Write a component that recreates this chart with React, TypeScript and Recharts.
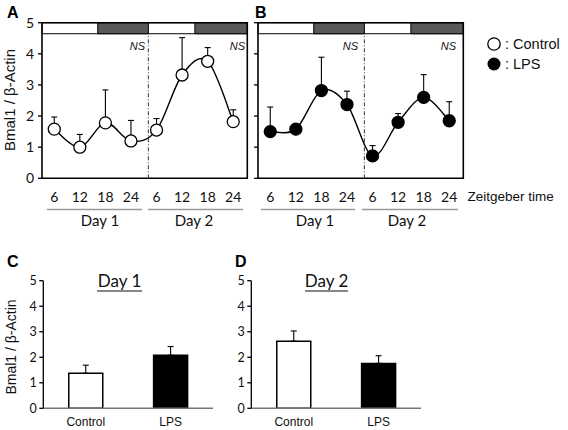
import React from 'react';
import {
  ComposedChart,
  BarChart,
  Line,
  Bar,
  Cell,
  XAxis,
  YAxis,
  ErrorBar,
  ReferenceArea,
  ReferenceLine,
} from 'recharts';

// Zeitgeber time labels (Day 1 then Day 2)
const zeitgeberLabels = ['6', '12', '18', '24', '6', '12', '18', '24'];

// panel A, control
const controlMean = [1.58, 1.0, 1.78, 1.2, 1.55, 3.32, 3.76, 1.82];
const controlSem = [0.39, 0.41, 1.06, 0.66, 0.37, 1.2, 0.44, 0.38];

// panel B, LPS
const lpsMean = [1.5, 1.58, 2.82, 2.37, 0.72, 1.8, 2.6, 1.85];
const lpsSem = [0.79, 0.04, 1.07, 0.43, 0.33, 0.28, 0.73, 0.61];

// panels C and D
const groups = ['Control', 'LPS'];
const day1Mean = [1.37, 2.08];
const day1Sem = [0.32, 0.34];
const day2Mean = [2.63, 1.76];
const day2Sem = [0.4, 0.3];
const groupFills = ['#ffffff', '#000000'];

const yTicks = [0, 1, 2, 3, 4, 5];

// light/dark bar on top of A and B (in x-axis units)
const xDomain = [0.52, 8.55];
const darkPhases = [
  [2.7, 4.68],
  [6.5, 8.55],
];
const dayBoundary = 4.68;
const bandBottom = 4.645;

const ARIAL = '"Liberation Sans", Arial, sans-serif';
const CALIBRI = 'Lato, "Open Sans", sans-serif';

const timeRows = (mean: number[], sem: number[]) =>
  mean.map((m, i) => ({ pos: i + 1, label: zeitgeberLabels[i], mean: m, err: [0, sem[i]] }));

const barRows = (mean: number[], sem: number[]) =>
  groups.map((g, i) => ({ group: g, mean: mean[i], err: [0, sem[i]] }));

// Excel-like smoothed line (Catmull-Rom through the points)
const smoothCurve = (context: any) => {
  let pts: number[][] = [];
  return {
    areaStart() {},
    areaEnd() {},
    lineStart() {
      pts = [];
    },
    point(x: number, y: number) {
      pts.push([+x, +y]);
    },
    lineEnd() {
      if (!pts.length) return;
      context.moveTo(pts[0][0], pts[0][1]);
      for (let i = 0; i < pts.length - 1; i++) {
        const p0 = pts[i - 1] || pts[i];
        const p1 = pts[i];
        const p2 = pts[i + 1];
        const p3 = pts[i + 2] || p2;
        context.bezierCurveTo(
          p1[0] + (p2[0] - p0[0]) / 6,
          p1[1] + (p2[1] - p0[1]) / 6,
          p2[0] - (p3[0] - p1[0]) / 6,
          p2[1] - (p3[1] - p1[1]) / 6,
          p2[0],
          p2[1]
        );
      }
    },
  };
};

const TimeTick = (props: any) => {
  const { x, y, payload } = props;
  return (
    <text x={x} y={y + 24} textAnchor="middle" fontSize={14} fontFamily={CALIBRI} fill="#111">
      {zeitgeberLabels[payload.value - 1]}
    </text>
  );
};

function TimeCourse({ mean, sem, filled, showYTicks, left }: any) {
  const rows = timeRows(mean, sem);
  return (
    <div style={{ position: 'absolute', left, top: 0 }}>
      <ComposedChart
        width={260}
        height={240}
        data={rows}
        margin={{ top: 22.7, right: 12.7, bottom: 31.7, left: 0 }}
      >
        <XAxis
          dataKey="pos"
          type="number"
          domain={xDomain}
          ticks={[1, 2, 3, 4, 5, 6, 7, 8]}
          interval={0}
          axisLine={false}
          tickLine={false}
          tickSize={0}
          tickMargin={0}
          height={30}
          tick={<TimeTick />}
        />
        <YAxis
          domain={[0, 5]}
          ticks={yTicks}
          width={42}
          axisLine={false}
          tickSize={4}
          tickMargin={4}
          tickLine={{ stroke: '#000', strokeWidth: 1.3 }}
          tick={
            showYTicks
              ? { fontSize: 14, fill: '#111', fontFamily: CALIBRI }
              : () => <g />
          }
        />
        <ReferenceArea x1={xDomain[0]} x2={xDomain[1]} y1={bandBottom} y2={5} fill="#fff" fillOpacity={1} stroke="#000" strokeWidth={1} />
        {darkPhases.map((p, i) => (
          <ReferenceArea key={i} x1={p[0]} x2={p[1]} y1={bandBottom} y2={5} fill="#595959" fillOpacity={1} stroke="#000" strokeWidth={1} />
        ))}
        <ReferenceLine
          segment={[
            { x: dayBoundary, y: 0 },
            { x: dayBoundary, y: bandBottom },
          ]}
          stroke="#333"
          strokeWidth={1}
          strokeDasharray="4 2 1 2"
        />
        <ReferenceArea x1={xDomain[0]} x2={xDomain[1]} y1={0} y2={5} fill="none" stroke="#000" strokeWidth={1.6} />
        <Line
          dataKey="mean"
          type={smoothCurve as any}
          stroke="#000"
          strokeWidth={1.4}
          dot={{ r: 6, fill: filled ? '#000' : '#fff', stroke: '#000', strokeWidth: 1.3, fillOpacity: 1 }}
          activeDot={false}
          isAnimationActive={false}
        >
          <ErrorBar dataKey="err" direction="y" width={3} stroke="#000" strokeWidth={1.1} />
        </Line>
      </ComposedChart>
    </div>
  );
}

function DayBars({ mean, sem, left }: any) {
  const rows = barRows(mean, sem);
  return (
    <div style={{ position: 'absolute', left, top: 260 }}>
      <BarChart
        width={230}
        height={170}
        data={rows}
        margin={{ top: 20.7, right: 17, bottom: 0, left: 0 }}
        barCategoryGap="30%"
      >
        <XAxis
          dataKey="group"
          height={21.7}
          axisLine={{ stroke: '#777', strokeWidth: 1.5 }}
          tickLine={false}
          tickSize={6}
          tickMargin={3}
          tick={{ fontSize: 12, fill: '#111', fontFamily: ARIAL }}
        />
        <YAxis
          domain={[0, 5]}
          ticks={yTicks}
          width={43.3}
          axisLine={{ stroke: '#000', strokeWidth: 1.3 }}
          tickLine={{ stroke: '#000', strokeWidth: 1.3 }}
          tickSize={4}
          tickMargin={2.5}
          tick={{ fontSize: 12.5, fill: '#111', fontFamily: CALIBRI }}
        />
        <Bar dataKey="mean" stroke="#000" strokeWidth={1.5} isAnimationActive={false}>
          {rows.map((r, i) => (
            <Cell key={r.group} fill={groupFills[i]} />
          ))}
          <ErrorBar dataKey="err" direction="y" width={3} stroke="#000" strokeWidth={1.1} />
        </Bar>
      </BarChart>
    </div>
  );
}

export default function App() {
  return (
    <div style={{ position: 'absolute', left: 0, top: 0, width: 568, height: 430, background: '#fff', overflow: 'hidden' }}>
      <TimeCourse mean={controlMean} sem={controlSem} filled={false} showYTicks left={0} />
      <TimeCourse mean={lpsMean} sem={lpsSem} filled showYTicks={false} left={215.7} />
      <DayBars mean={day1Mean} sem={day1Sem} left={0} />
      <DayBars mean={day2Mean} sem={day2Sem} left={208.4} />

      <svg width={568} height={430} style={{ position: 'absolute', left: 0, top: 0, pointerEvents: 'none' }}>
        <g fontFamily={ARIAL} fontWeight="bold" fontSize={16} fill="#000">
          <text x={7} y={18}>A</text>
          <text x={255} y={18}>B</text>
          <text x={7} y={267}>C</text>
          <text x={235} y={267}>D</text>
        </g>

        <text transform="translate(15,100) rotate(-90)" textAnchor="middle" fontFamily={ARIAL} fontSize={15} fill="#111">
          Bmal1 / β-Actin
        </text>
        <text transform="translate(16,347) rotate(-90)" textAnchor="middle" fontFamily={ARIAL} fontSize={14} fill="#111">
          Bmal1 / β-Actin
        </text>

        <g fontFamily={ARIAL} fontStyle="italic" fontSize={11} fill="#111" textAnchor="end">
          <text x={145} y={49.5}>NS</text>
          <text x={245} y={49.5}>NS</text>
          <text x={358} y={49.5}>NS</text>
          <text x={456} y={49.5}>NS</text>
        </g>

        <g stroke="#9a9a9a" strokeWidth={1.5}>
          <line x1={47} y1={209.5} x2={142} y2={209.5} />
          <line x1={148} y1={209.5} x2={243} y2={209.5} />
          <line x1={261} y1={209.5} x2={355} y2={209.5} />
          <line x1={362} y1={209.5} x2={458} y2={209.5} />
        </g>
        <g fontFamily={CALIBRI} fontSize={15} fill="#111" textAnchor="middle">
          <text x={100} y={225.5}>Day 1</text>
          <text x={194} y={225.5}>Day 2</text>
          <text x={315} y={225.5}>Day 1</text>
          <text x={407} y={225.5}>Day 2</text>
        </g>
        <text x={467.5} y={201} fontFamily={ARIAL} fontSize={13.5} fill="#111">
          Zeitgeber time
        </text>

        <circle cx={494} cy={44} r={6.2} fill="#fff" stroke="#000" strokeWidth={1.3} />
        <circle cx={494} cy={64} r={6.5} fill="#000" />
        <g fontFamily={ARIAL} fontSize={14.5} fill="#111">
          <text x={505} y={48.8}>: Control</text>
          <text x={505} y={69}>: LPS</text>
        </g>

        <g fontFamily={CALIBRI} fontSize={17} fill="#111" textAnchor="middle">
          <text x={119.5} y={287}>Day 1</text>
          <text x={326.5} y={287}>Day 2</text>
        </g>
        <g stroke="#111" strokeWidth={1.2}>
          <line x1={97} y1={291} x2={142} y2={291} />
          <line x1={305} y1={291} x2={348} y2={291} />
        </g>
      </svg>
    </div>
  );
}
